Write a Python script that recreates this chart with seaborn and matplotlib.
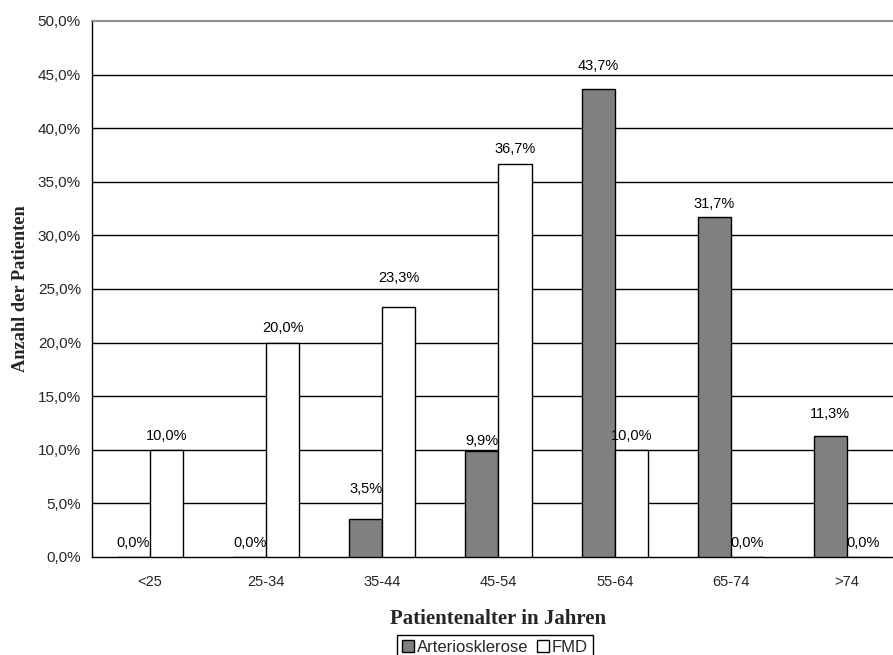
import matplotlib
matplotlib.use("Agg")
import matplotlib.pyplot as plt
import seaborn as sns
import pandas as pd
import numpy as np
from matplotlib.patches import Patch

age_groups = ["<25", "25-34", "35-44", "45-54", "55-64", "65-74", ">74"]
arteriosklerose = [0.0, 0.0, 3.5, 9.9, 43.7, 31.7, 11.3]
fmd = [10.0, 20.0, 23.3, 36.7, 10.0, 0.0, 0.0]
series_names = ["Arteriosklerose", "FMD"]
series_colors = ["#808080", "#ffffff"]
y_ticks = [0, 5, 10, 15, 20, 25, 30, 35, 40, 45, 50]

df = pd.DataFrame({
    "Altersgruppe": age_groups * 2,
    "Anteil": arteriosklerose + fmd,
    "Gruppe": [series_names[0]] * len(age_groups) + [series_names[1]] * len(age_groups),
})

sns.set_style("white")
plt.rcParams["font.family"] = ["Liberation Sans", "DejaVu Sans"]

W, H = 893, 655
DPI = 100
fig = plt.figure(figsize=(W / DPI, H / DPI), dpi=DPI)
left_px, right_px, top_px, bottom_px = 92, 905, 21, 557
ax = fig.add_axes([left_px / W, 1 - bottom_px / H, (right_px - left_px) / W, (bottom_px - top_px) / H])

sns.barplot(data=df, x="Altersgruppe", y="Anteil", hue="Gruppe", order=age_groups,
            hue_order=series_names, palette=series_colors, edgecolor="black",
            linewidth=1.0, width=0.57, gap=0, ax=ax, legend=False, zorder=3)

def de_pct(v):
    return f"{v:.1f}%".replace(".", ",")

# distance (pixels) from bar top to the centre of each value label, per series
label_lift_px = [
    [15, 15, 31, 11, 24, 14, 23],
    [15, 16, 30, 16, 15, 15, 15],
]
half_text_px = 8
for cont, lifts in zip(ax.containers, label_lift_px):
    bars = list(cont)
    for i, lift in enumerate(lifts):
        labels = [de_pct(b.get_height()) if j == i else "" for j, b in enumerate(bars)]
        ax.bar_label(cont, labels=labels, padding=(lift - half_text_px) * 72 / DPI,
                     fontsize=10.5, color="black")

ax.set_xlim(-0.5, len(age_groups) - 0.5)
ax.set_ylim(0, 50)
ax.set_yticks(y_ticks)
ax.set_yticklabels([f"{t:.1f}%".replace(".", ",") for t in y_ticks], fontsize=11)
ax.tick_params(axis="x", which="major", length=0, labelsize=10.5, pad=13)
ax.set_xticks(np.arange(-0.5, len(age_groups) + 0.5, 1), minor=True)
ax.tick_params(axis="x", which="minor", length=5, width=1, color="black", direction="out")
ax.tick_params(axis="y", which="major", length=5, width=1, color="black", direction="out", pad=3)

for t in y_ticks[1:-1]:
    ax.axhline(t, color="black", linewidth=1.0, zorder=1)

for side in ["left", "bottom"]:
    ax.spines[side].set_visible(True)
    ax.spines[side].set_color("black")
    ax.spines[side].set_linewidth(1.0)
ax.spines["top"].set_visible(True)
ax.spines["top"].set_color("#909090")
ax.spines["top"].set_linewidth(1.5)
ax.spines["right"].set_visible(False)

ax.set_xlabel("Patientenalter in Jahren", family=["Liberation Serif"], fontweight="bold",
              fontsize=15, labelpad=14)
ax.set_ylabel("Anzahl der Patienten", family=["Liberation Serif"], fontweight="bold",
              fontsize=13.2, labelpad=6)

handles = [Patch(facecolor=c, edgecolor="black", linewidth=1.0) for c in series_colors]
leg = fig.legend(handles, series_names, loc="center", bbox_to_anchor=(495 / W, 1 - 647 / H),
                 ncol=2, frameon=True, fancybox=False, edgecolor="black", framealpha=1,
                 fontsize=12, handlelength=0.7, handleheight=0.7, handletextpad=0.2,
                 columnspacing=0.5, borderpad=0.3, borderaxespad=0.1)
leg.get_frame().set_linewidth(1.0)

fig.savefig("out.png", dpi=DPI)
